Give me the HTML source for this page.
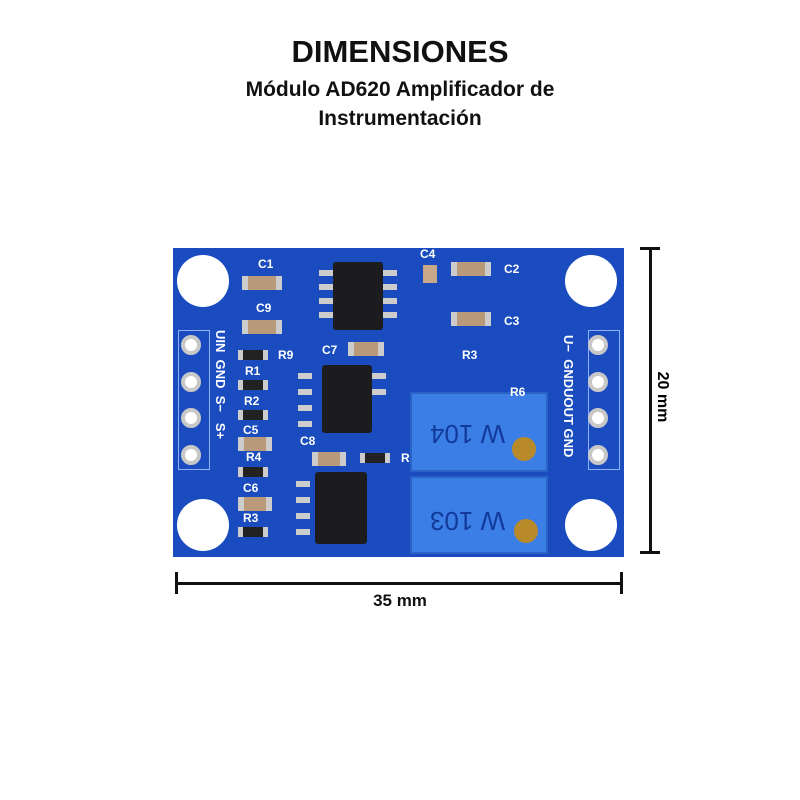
<!DOCTYPE html><html><head><style>
body{margin:0;width:800px;height:800px;background:#fff;position:relative;overflow:hidden;font-family:"Liberation Sans",sans-serif}
div{position:absolute;box-sizing:border-box}
.t{left:0;width:800px;text-align:center;font-weight:900;color:#111}
.hole{width:52px;height:52px;border-radius:50%;background:#fff}
.ic{background:#1c1c1e;border-radius:3px}
.pin{background:#ccc;width:14px;height:6px}
.pot{background:#3b7fe6;border:2px solid #2a62c6}
.pad{width:20px;height:20px;background:#fff;border-radius:50%;border:4px solid #c8c8c8}
.lbl{color:#fff;font-size:12px;font-weight:bold}
.cap{background:#b89a7a;border-left:6px solid #ccc;border-right:6px solid #ccc;height:14px;width:40px}
.res{background:#222;border-left:5px solid #ccc;border-right:5px solid #ccc;height:10px;width:30px}
</style></head><body>
<div class="t" style="top:34px;font-size:31px">DIMENSIONES</div>
<div class="t" style="top:78px;font-size:21px">Módulo AD620 Amplificador de</div>
<div class="t" style="top:107px;font-size:21px">Instrumentación</div>

<div style="left:173px;top:248px;width:451px;height:309px;background:#1a4cc0"></div>
<div class="hole" style="left:177px;top:255px"></div>
<div class="hole" style="left:565px;top:255px"></div>
<div class="hole" style="left:177px;top:499px"></div>
<div class="hole" style="left:565px;top:499px"></div>

<div style="left:178px;top:330px;width:32px;height:140px;border:1px solid #8fb0ff"></div>
<div class="pad" style="left:181px;top:335px"></div><div class="pad" style="left:181px;top:372px"></div><div class="pad" style="left:181px;top:408px"></div><div class="pad" style="left:181px;top:445px"></div>
<div style="left:588px;top:330px;width:32px;height:140px;border:1px solid #8fb0ff"></div>
<div class="pad" style="left:588px;top:335px"></div><div class="pad" style="left:588px;top:372px"></div><div class="pad" style="left:588px;top:408px"></div><div class="pad" style="left:588px;top:445px"></div>

<div class="ic" style="left:333px;top:262px;width:50px;height:68px"></div>
<div class="ic" style="left:322px;top:365px;width:50px;height:68px"></div>
<div class="ic" style="left:315px;top:472px;width:52px;height:72px"></div>
<div class="pin" style="left:319px;top:270px"></div><div class="pin" style="left:319px;top:284px"></div><div class="pin" style="left:319px;top:298px"></div><div class="pin" style="left:319px;top:312px"></div>
<div class="pin" style="left:383px;top:270px"></div><div class="pin" style="left:383px;top:284px"></div><div class="pin" style="left:383px;top:298px"></div><div class="pin" style="left:383px;top:312px"></div>
<div class="pin" style="left:298px;top:373px"></div><div class="pin" style="left:298px;top:389px"></div><div class="pin" style="left:298px;top:405px"></div><div class="pin" style="left:298px;top:421px"></div>
<div class="pin" style="left:372px;top:373px"></div><div class="pin" style="left:372px;top:389px"></div>
<div class="pin" style="left:296px;top:481px"></div><div class="pin" style="left:296px;top:497px"></div><div class="pin" style="left:296px;top:513px"></div><div class="pin" style="left:296px;top:529px"></div>

<div class="pot" style="left:410px;top:392px;width:138px;height:80px"></div>
<div class="pot" style="left:410px;top:476px;width:138px;height:78px"></div>
<div style="left:512px;top:437px;width:24px;height:24px;border-radius:50%;background:#b88a2a"></div>
<div style="left:514px;top:519px;width:24px;height:24px;border-radius:50%;background:#b88a2a"></div>
<div style="left:430px;top:418px;font-size:26px;color:#123a9a;transform:rotate(180deg)">W 104</div>
<div style="left:430px;top:505px;font-size:26px;color:#123a9a;transform:rotate(180deg)">W 103</div>

<div class="cap" style="left:242px;top:276px"></div><div class="lbl" style="left:258px;top:257px">C1</div>
<div class="cap" style="left:242px;top:320px"></div><div class="lbl" style="left:256px;top:301px">C9</div>
<div class="cap" style="left:451px;top:262px"></div><div class="lbl" style="left:504px;top:262px">C2</div>
<div class="cap" style="left:451px;top:312px"></div><div class="lbl" style="left:504px;top:314px">C3</div>
<div class="lbl" style="left:420px;top:247px">C4</div><div style="left:423px;top:265px;width:14px;height:18px;background:#c8a888"></div>
<div class="cap" style="left:348px;top:342px;width:36px"></div><div class="lbl" style="left:322px;top:343px">C7</div>
<div class="res" style="left:238px;top:350px"></div><div class="lbl" style="left:278px;top:348px">R9</div>
<div class="res" style="left:238px;top:380px"></div><div class="lbl" style="left:245px;top:364px">R1</div>
<div class="res" style="left:238px;top:410px"></div><div class="lbl" style="left:244px;top:394px">R2</div>
<div class="cap" style="left:238px;top:437px;width:34px"></div><div class="lbl" style="left:243px;top:423px">C5</div>
<div class="res" style="left:238px;top:467px"></div><div class="lbl" style="left:246px;top:450px">R4</div>
<div class="cap" style="left:238px;top:497px;width:34px"></div><div class="lbl" style="left:243px;top:481px">C6</div>
<div class="res" style="left:238px;top:527px"></div><div class="lbl" style="left:243px;top:511px">R3</div>
<div class="cap" style="left:312px;top:452px;width:34px"></div><div class="lbl" style="left:300px;top:434px">C8</div>
<div class="res" style="left:360px;top:453px"></div><div class="lbl" style="left:401px;top:451px">R</div>
<div class="lbl" style="left:462px;top:348px">R3</div><div class="lbl" style="left:510px;top:385px">R6</div>
<div class="lbl" style="left:212px;top:330px;width:16px;font-size:13px;writing-mode:vertical-rl">UIN&nbsp;&nbsp;GND&nbsp;&nbsp;S−&nbsp;&nbsp;&nbsp;S+</div>
<div class="lbl" style="left:560px;top:335px;width:16px;font-size:13px;writing-mode:vertical-rl">U−&nbsp;&nbsp;GNDUOUT GND</div>

<div style="left:649px;top:248px;width:3px;height:305px;background:#111"></div>
<div style="left:640px;top:247px;width:20px;height:3px;background:#111"></div>
<div style="left:640px;top:551px;width:20px;height:3px;background:#111"></div>
<div style="left:622px;top:388px;width:80px;font-size:16px;font-weight:bold;transform:rotate(90deg);text-align:center">20 mm</div>
<div style="left:176px;top:582px;width:446px;height:3px;background:#111"></div>
<div style="left:175px;top:572px;width:3px;height:22px;background:#111"></div>
<div style="left:620px;top:572px;width:3px;height:22px;background:#111"></div>
<div class="t" style="top:591px;font-size:17px;font-weight:bold">35 mm</div>
</body></html>
